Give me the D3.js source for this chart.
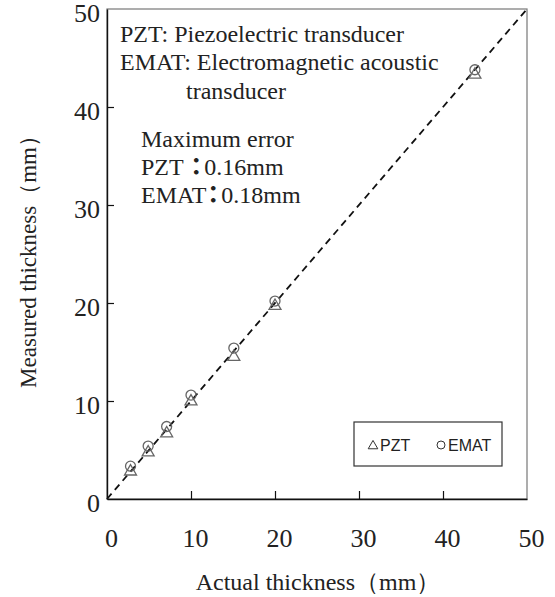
<!DOCTYPE html>
<html>
<head>
<meta charset="utf-8">
<script src="https://cdn.jsdelivr.net/npm/d3@7"></script>
<style>
  body { margin: 0; background: #fff; }
  svg text { font-family: "Liberation Serif", "Times New Roman", serif; fill: #222; }
</style>
</head>
<body>
<svg id="chart"></svg>
<script>
// values
var actual       = [2.8, 4.9, 7.1, 10.0, 15.1, 20.0, 43.8];
var pztMeasured  = [2.8, 4.75, 6.7, 9.95, 14.5, 19.7, 43.3];
var ematMeasured = [3.35, 5.4, 7.4, 10.6, 15.4, 20.2, 43.8];
var xTicks = [0, 10, 20, 30, 40, 50];
var yTicks = [0, 10, 20, 30, 40, 50];
var noteLines  = ["PZT: Piezoelectric transducer", "EMAT: Electromagnetic acoustic", "transducer"];
var errorNames  = ["PZT ", "EMAT"];
var errorValues = ["0.16mm", "0.18mm"];
var legendLabels = ["PZT", "EMAT"];

var width = 555,
    height = 597,
    margin = {top: 9, right: 28, bottom: 98, left: 107};

var svg = d3.select("#chart")
    .attr("width", width)
    .attr("height", height);

var x = d3.scaleLinear().domain([0, 50]).range([margin.left, width - margin.right]);
var y = d3.scaleLinear().domain([0, 50]).range([height - margin.bottom, margin.top]);

// frame
svg.append("rect")
    .attr("x", x(0))
    .attr("y", y(50))
    .attr("width", x(50) - x(0))
    .attr("height", y(0) - y(50))
    .style("fill", "none")
    .style("stroke", "#777")
    .style("stroke-width", 1.2);

var xAxis = svg.append("g")
    .attr("transform", "translate(0," + y(0) + ")")
    .call(d3.axisBottom(x).tickValues(xTicks).tickSize(-8).tickSizeOuter(0).tickPadding(30));

var yAxis = svg.append("g")
    .attr("transform", "translate(" + x(0) + ",0)")
    .call(d3.axisLeft(y).tickValues(yTicks).tickSize(-7).tickSizeOuter(0).tickPadding(7));

[xAxis, yAxis].forEach(function(g) {
    g.select(".domain").style("stroke", "#111").style("stroke-width", 1.4);
    g.selectAll(".tick line").style("stroke", "#111").style("stroke-width", 1.2);
    g.selectAll(".tick text")
        .style("font-family", "'Liberation Serif', 'Times New Roman', serif")
        .style("font-size", "26px")
        .style("fill", "#222");
});
xAxis.selectAll(".tick text").attr("dx", 4);
yAxis.selectAll(".tick text").attr("dy", "0.32em").attr("y", 4);
xAxis.selectAll(".tick line").filter(function(d) { return d === 0 || d === 50; }).remove();
yAxis.selectAll(".tick line").filter(function(d) { return d === 0 || d === 50; }).remove();

// y = x reference line
svg.append("line")
    .attr("x1", x(0)).attr("y1", y(0))
    .attr("x2", x(50)).attr("y2", y(50))
    .style("stroke", "#111")
    .style("stroke-width", 1.8)
    .style("stroke-dasharray", "7,5");

// markers
var markerColor = "#666";
svg.append("g").selectAll("path")
    .data(actual)
    .enter().append("path")
    .attr("d", d3.symbol().type(d3.symbolTriangle).size(62))
    .attr("transform", function(d, i) { return "translate(" + x(d) + "," + y(pztMeasured[i]) + ")"; })
    .style("fill", "none")
    .style("stroke", markerColor)
    .style("stroke-width", 1.3);

svg.append("g").selectAll("circle")
    .data(actual)
    .enter().append("circle")
    .attr("cx", function(d) { return x(d); })
    .attr("cy", function(d, i) { return y(ematMeasured[i]); })
    .attr("r", 5)
    .style("fill", "none")
    .style("stroke", markerColor)
    .style("stroke-width", 1.3);

// annotations
var notes = svg.append("g").style("font-size", "24px");
notes.selectAll("text")
    .data(noteLines)
    .enter().append("text")
    .attr("x", function(d, i) { return i === 2 ? 186 : 120; })
    .attr("y", function(d, i) { return [42, 70, 99][i]; })
    .text(function(d) { return d; });

var errs = svg.append("g").style("font-size", "24px");
errs.append("text")
    .attr("x", 141)
    .attr("y", 147)
    .text("Maximum error");
var errRows = errs.selectAll("text.row")
    .data(errorNames)
    .enter().append("text")
    .attr("class", "row")
    .attr("x", 141)
    .attr("y", function(d, i) { return 175 + i * 28; });
errRows.append("tspan").text(function(d) { return d; });
errRows.append("tspan")
    .attr("dx", -5)
    .style("font-family", "'Noto Sans CJK JP', sans-serif")
    .style("font-weight", "bold")
    .text("\uFF1A");
errRows.append("tspan")
    .attr("dx", -4)
    .text(function(d, i) { return errorValues[i]; });

// legend
var legend = svg.append("g");
legend.append("rect")
    .attr("x", 354).attr("y", 422)
    .attr("width", 148).attr("height", 44)
    .style("fill", "#fff")
    .style("stroke", "#333")
    .style("stroke-width", 1.2);

legend.append("path")
    .attr("d", d3.symbol().type(d3.symbolTriangle).size(40))
    .attr("transform", "translate(373,446)")
    .style("fill", "none").style("stroke", "#333").style("stroke-width", 1);
legend.append("circle")
    .attr("cx", 441).attr("cy", 445).attr("r", 4)
    .style("fill", "none").style("stroke", "#333").style("stroke-width", 1);

legend.selectAll("text.lg")
    .data(legendLabels)
    .enter().append("text")
    .attr("class", "lg")
    .attr("x", function(d, i) { return i === 0 ? 380 : 448; })
    .attr("y", 451)
    .style("font-family", "'Liberation Sans', Arial, sans-serif")
    .style("font-size", "16px")
    .text(function(d) { return d; });

// axis titles
svg.append("text")
    .attr("x", 318)
    .attr("y", 590)
    .attr("text-anchor", "middle")
    .style("font-size", "24px")
    .text("Actual thickness\uFF08mm\uFF09");

svg.append("text")
    .attr("transform", "translate(36,256) rotate(-90)")
    .attr("text-anchor", "middle")
    .style("font-size", "23px")
    .text("Measured thickness\uFF08mm\uFF09");
</script>
</body>
</html>
